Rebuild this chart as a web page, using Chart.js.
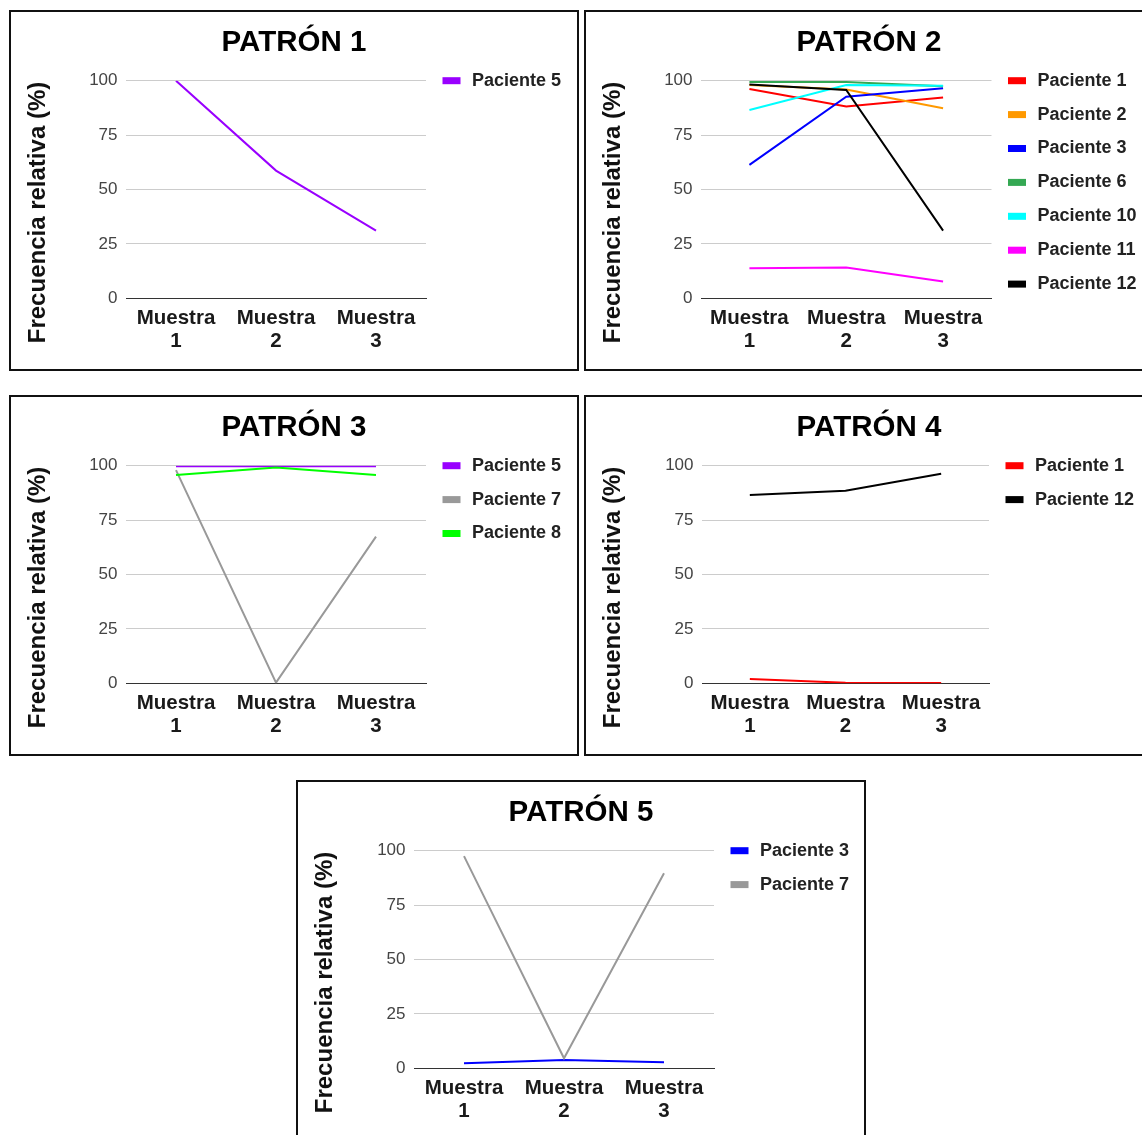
<!DOCTYPE html>
<html lang="es">
<head>
<meta charset="utf-8">
<title>Patrones de frecuencia relativa</title>
<script src="https://cdn.jsdelivr.net/npm/chart.js@4.4.0/dist/chart.umd.min.js"></script>
<style>
  html, body { margin: 0; padding: 0; background: #fff; }
  body { width: 1142px; height: 1135px; overflow: hidden; position: relative; }
  .panel { position: absolute; width: 570px; height: 361px; border: 2px solid #111; box-sizing: border-box; background: #fff; }
  .panel canvas { display: block; }
</style>
</head>
<body>
  <div class="panel" style="left:9px; top:10px"><canvas id="patron1" width="566" height="357"></canvas></div>
  <div class="panel" style="left:584px; top:10px"><canvas id="patron2" width="566" height="357"></canvas></div>
  <div class="panel" style="left:9px; top:395px"><canvas id="patron3" width="566" height="357"></canvas></div>
  <div class="panel" style="left:584px; top:395px"><canvas id="patron4" width="566" height="357"></canvas></div>
  <div class="panel" style="left:296px; top:780px"><canvas id="patron5" width="566" height="357"></canvas></div>

<script>
// Categorias del eje X (etiquetas en dos lineas)
const muestras = [["Muestra", "1"], ["Muestra", "2"], ["Muestra", "3"]];
// Marcas del eje Y
const escalaY = [0, 25, 50, 75, 100];

// Patron 1
const p1Paciente5 = [100, 58.7, 31.1];

// Patron 2
const p2Paciente1 = [96.2, 88.1, 92.3];
const p2Paciente2 = [98, 96, 87.3];
const p2Paciente3 = [61.3, 92.6, 96.5];
const p2Paciente6 = [99.4, 99.4, 97.5];
const p2Paciente10 = [86.5, 98, 97.7];
const p2Paciente11 = [13.8, 14.2, 7.7];
const p2Paciente12 = [98.3, 95.7, 31.1];

// Patron 3
const p3Paciente5 = [99.8, 99.8, 99.8];
const p3Paciente7 = [98, 0.3, 67.4];
const p3Paciente8 = [95.7, 99.2, 95.7];

// Patron 4
const p4Paciente1 = [2, 0.2, 0.1];
const p4Paciente12 = [86.5, 88.5, 96.3];

// Patron 5
const p5Paciente3 = [2.3, 3.8, 2.8];
const p5Paciente7 = [97.5, 4.6, 89.6];

const FUENTE = '"Liberation Sans", Arial, Helvetica, sans-serif';
Chart.defaults.font.family = FUENTE;

//Plugin que dibuja el titulo, el titulo del eje Y y la leyenda a la derecha
const decoracionPanel = {
  id: "decoracionPanel",
  afterDraw(chart, args, opts) {
    const ctx = chart.ctx;
    const area = chart.chartArea;

    // titulo centrado sobre todo el panel
    ctx.save();
    ctx.font = "bold 29.5px " + FUENTE;
    ctx.fillStyle = "#000";
    ctx.textAlign = "center";
    ctx.textBaseline = "middle";
    ctx.fillText(opts.titulo, chart.width / 2, 30.5);
    ctx.restore();

    // titulo del eje Y
    ctx.save();
    ctx.translate(27.5, 200.5);
    ctx.rotate(-Math.PI / 2);
    ctx.font = "bold 24px " + FUENTE;
    ctx.fillStyle = "#111";
    ctx.textAlign = "center";
    ctx.textBaseline = "middle";
    ctx.fillText("Frecuencia relativa (%)", 0, 0);
    ctx.restore();

    // leyenda
    const x0 = area.right + 16.5;
    ctx.save();
    ctx.font = "bold 18px " + FUENTE;
    ctx.textAlign = "left";
    ctx.textBaseline = "middle";
    chart.data.datasets.forEach((ds, i) => {
      const y = area.top + i * 33.9;
      ctx.fillStyle = ds.borderColor;
      ctx.fillRect(x0, y - 3.5, 18, 7);
      ctx.fillStyle = "#222";
      ctx.fillText(ds.label, x0 + 29.5, y);
    });
    ctx.restore();
  },
};

//Clase para crear el grafico de un patron
class GraficoPatron {
  constructor(canvasId, titulo, series, izquierda, derecha) {
    this.canvasId = canvasId;
    this.titulo = titulo;
    this.series = series;
    this.izquierda = izquierda;
    this.derecha = derecha;
    this.chart = null;
    this.crearGrafico();
  }

  crearGrafico() {
    const canvas = document.getElementById(this.canvasId);
    const ancho = canvas.width;
    const alto = canvas.height;
    const arriba = 68.7;
    const abajo = 286.3;
    const izquierda = this.izquierda;
    const n = this.series.length;

    const dataChart = {
      labels: muestras,
      datasets: this.series.map((s, i) => ({
        label: s.label,
        data: s.data,
        borderColor: s.color,
        backgroundColor: s.color,
        borderWidth: 2,
        tension: 0,
        pointRadius: 0,
        fill: false,
        // las series posteriores quedan por encima
        order: n - i,
      })),
    };

    const optionsChart = {
      responsive: false,
      animation: false,
      events: [],
      layout: { padding: { left: 0, top: arriba, bottom: 0, right: ancho - this.derecha } },
      plugins: {
        legend: { display: false },
        tooltip: { enabled: false },
        title: { display: false },
        decoracionPanel: { titulo: this.titulo },
      },
      scales: {
        x: {
          offset: true,
          grid: { display: false, drawTicks: false },
          border: { display: true, color: "#333", width: 1 },
          ticks: {
            color: "#1a1a1a",
            padding: 9.4,
            maxRotation: 0,
            autoSkip: false,
            font: { size: 20.5, weight: "bold", lineHeight: 1.08 },
          },
          afterFit: (scale) => {
            scale.height = alto - abajo;
          },
        },
        y: {
          min: escalaY[0],
          max: escalaY[escalaY.length - 1],
          grid: {
            drawTicks: false,
            color: (c) => (c.tick && c.tick.value === 0 ? "#333" : "#cccccc"),
            lineWidth: 1,
          },
          border: { display: false },
          ticks: {
            stepSize: escalaY[1] - escalaY[0],
            color: "#444",
            padding: 8.5,
            font: { size: 17 },
          },
          afterFit: (scale) => {
            scale.width = izquierda;
          },
        },
      },
    };

    this.chart = new Chart(canvas, {
      type: "line",
      data: dataChart,
      options: optionsChart,
      plugins: [decoracionPanel],
    });
  }
}

new GraficoPatron("patron1", "PATRÓN 1", [
  { label: "Paciente 5", data: p1Paciente5, color: "#9900ff" },
], 115, 415);

new GraficoPatron("patron2", "PATRÓN 2", [
  { label: "Paciente 1", data: p2Paciente1, color: "#ff0000" },
  { label: "Paciente 2", data: p2Paciente2, color: "#ff9900" },
  { label: "Paciente 3", data: p2Paciente3, color: "#0000ff" },
  { label: "Paciente 6", data: p2Paciente6, color: "#34a853" },
  { label: "Paciente 10", data: p2Paciente10, color: "#00ffff" },
  { label: "Paciente 11", data: p2Paciente11, color: "#ff00ff" },
  { label: "Paciente 12", data: p2Paciente12, color: "#000000" },
], 115, 405.5);

new GraficoPatron("patron3", "PATRÓN 3", [
  { label: "Paciente 5", data: p3Paciente5, color: "#9900ff" },
  { label: "Paciente 7", data: p3Paciente7, color: "#999999" },
  { label: "Paciente 8", data: p3Paciente8, color: "#00ff00" },
], 115, 415);

new GraficoPatron("patron4", "PATRÓN 4", [
  { label: "Paciente 1", data: p4Paciente1, color: "#ff0000" },
  { label: "Paciente 12", data: p4Paciente12, color: "#000000" },
], 116, 403);

new GraficoPatron("patron5", "PATRÓN 5", [
  { label: "Paciente 3", data: p5Paciente3, color: "#0000ff" },
  { label: "Paciente 7", data: p5Paciente7, color: "#999999" },
], 116, 416);
</script>
</body>
</html>
